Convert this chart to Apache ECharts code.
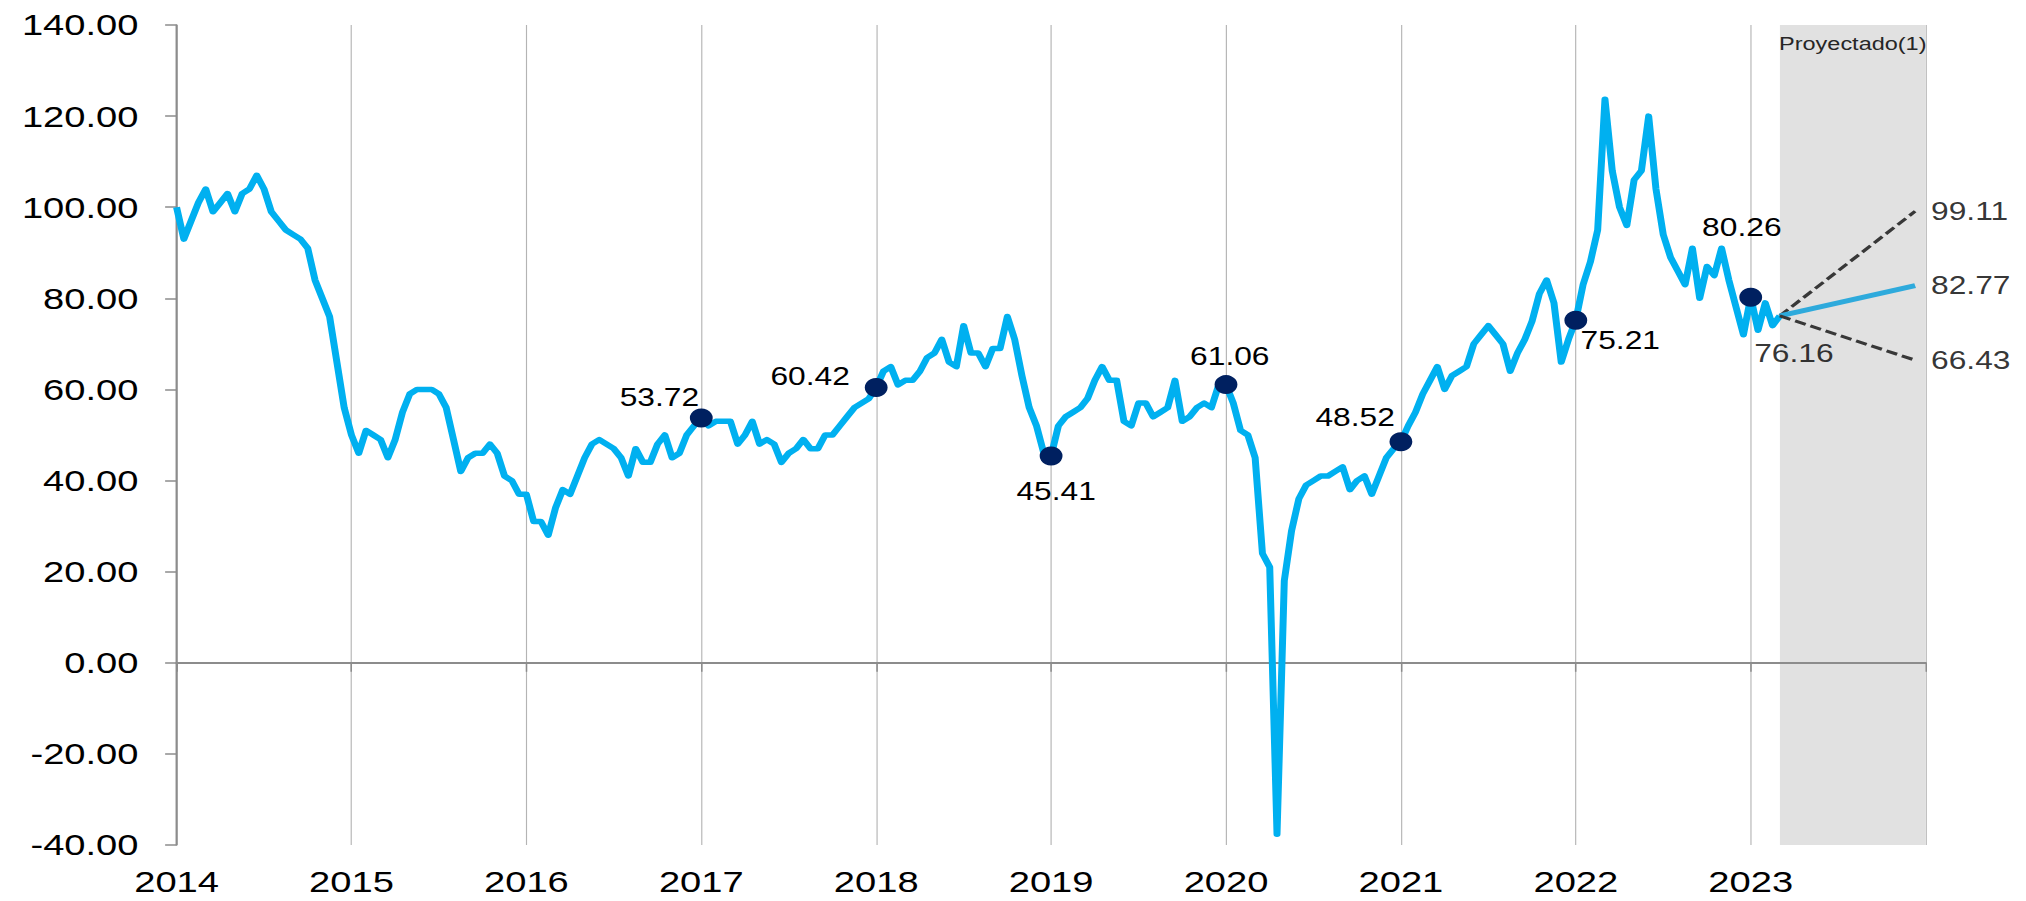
<!DOCTYPE html>
<html>
<head>
<meta charset="utf-8">
<title>WTI</title>
<script src="https://cdn.jsdelivr.net/npm/echarts@6/dist/echarts.min.js"></script>
<style>
    html, body { margin: 0; padding: 0; background: #fff; overflow: hidden; }
    /* the source picture is stretched sideways, so draw narrower and widen it */
    #chart { width: 1595px; height: 901px; transform: scaleX(1.2702); transform-origin: 0 0; }
</style>
</head>
<body>
<div id="chart"></div>
<script>
// WTI, two readings per month (1st and 15th)
const wti2014 = [100, 93, 97, 101, 104, 99, 101, 103, 99, 103, 104, 107, 104, 99, 97, 95, 94, 93, 91, 84, 80, 76, 66, 56];
const wti2015 = [50, 46, 51, 50, 49, 45, 49, 55, 59, 60, 60, 60, 59, 56, 49, 42, 45, 46, 46, 48, 46, 41, 40, 37];
const wti2016 = [37, 31, 31, 28, 34, 38, 37, 41, 45, 48, 49, 48, 47, 45, 41, 47, 44, 44, 48, 50, 45, 46, 50, 52];
const wti2017 = [53.72, 52, 53, 53, 53, 48, 50, 53, 48, 49, 48, 44, 46, 47, 49, 47, 47, 50, 50, 52, 54, 56, 57, 58];
const wti2018 = [60.42, 64, 65, 61, 62, 62, 64, 67, 68, 71, 66, 65, 74, 68, 68, 65, 69, 69, 76, 71, 63, 56, 52, 46];
const wti2019 = [45.41, 52, 54, 55, 56, 58, 62, 65, 62, 62, 53, 52, 57, 57, 54, 55, 56, 62, 53, 54, 56, 57, 56, 61];
const wti2020 = [61.06, 57, 51, 50, 45, 24, 21, -37.63, 18, 29, 36, 39, 40, 41, 41, 42, 43, 38, 40, 41, 37, 41, 45, 47];
const wti2021 = [48.52, 52, 55, 59, 62, 65, 60, 63, 64, 65, 70, 72, 74, 72, 70, 64, 68, 71, 75, 81, 84, 79, 66, 71];
const wti2022 = [75.21, 83, 88, 95, 123.7, 108, 100, 96, 106, 108, 120, 104, 94, 89, 86, 83, 91, 80, 87, 85, 91, 84, 78, 72];
const wti2023 = [80.26, 73, 79, 74, 76.16];
const firstYear = 2014;
const wtiByYear = [wti2014, wti2015, wti2016, wti2017, wti2018, wti2019, wti2020, wti2021, wti2022, wti2023];

// highlighted year-start values
const markerYears = [2017, 2018, 2019, 2020, 2021, 2022, 2023];
const markerValues = [53.72, 60.42, 45.41, 61.06, 48.52, 75.21, 80.26];

// projection to end of 2023
const projectedFrom = 2023.167;
const projectedTo = 2024;
const projectionDate = 2023.94;
const projectionNames = ['Alto', 'Base', 'Bajo'];
const projectionValues = [99.11, 82.77, 66.43];

const yTicks = [-40, 140, 20];   // min, max, step
const xYears = [2014, 2024];

// label placement around each marker (style only)
const markerLabelOffset = {
    2017: [-33, -21], 2018: [-52, -11], 2019: [4, 35], 2020: [3, -28],
    2021: [-36, -24], 2022: [35, 20], 2023: [-7, -70]
};

const FONT = "'Liberation Sans', Arial, sans-serif";

const history = [];
wtiByYear.forEach((vals, k) => {
    vals.forEach((v, i) => history.push([firstYear + k + i / 24, v]));
});
const lastPoint = history[history.length - 1];

const markerData = markerYears.map((y, i) => ({
    value: [y, markerValues[i]],
    label: { offset: markerLabelOffset[y] }
}));

const projectionSeries = projectionNames.map((name, i) => {
    const isBase = name === 'Base';
    return {
        name: name,
        type: 'line',
        data: [[lastPoint[0], lastPoint[1]], [projectionDate, projectionValues[i]]],
        symbol: 'none',
        z: 3,
        lineStyle: isBase
            ? { color: '#2eaadc', width: 5 }
            : { color: '#383838', width: 3, type: [9, 4] }
    };
});

const chart = echarts.init(document.getElementById('chart'), null, { renderer: 'svg' });

chart.setOption({
    animation: false,
    backgroundColor: '#fff',
    textStyle: { fontFamily: FONT },
    grid: { left: 139, right: 79, top: 25, bottom: 56 },
    xAxis: [
        {
            type: 'value',
            min: xYears[0],
            max: xYears[1],
            interval: 1,
            axisLine: { show: false, onZero: false },
            axisTick: { show: false },
            axisLabel: {
                fontSize: 30,
                color: '#000',
                margin: 21,
                fontFamily: FONT,
                formatter: v => (v === xYears[1] ? '' : String(v))
            },
            splitLine: { show: true, lineStyle: { color: '#b4b4b4', width: 0.9 } }
        },
        {
            // axis line drawn at zero
            type: 'value',
            min: xYears[0],
            max: xYears[1],
            interval: 1,
            position: 'bottom',
            z: 1.5,
            axisLine: { show: true, onZero: true, lineStyle: { color: '#8c8c8c', width: 2 } },
            axisTick: { show: true, length: 9, lineStyle: { color: '#8c8c8c', width: 1.2 } },
            axisLabel: { show: false },
            splitLine: { show: false }
        }
    ],
    yAxis: {
        type: 'value',
        min: yTicks[0],
        max: yTicks[1],
        interval: yTicks[2],
        axisLine: { show: true, onZero: false, lineStyle: { color: '#8c8c8c', width: 1.6 } },
        axisTick: { show: true, length: 9, lineStyle: { color: '#8c8c8c', width: 1.5 } },
        axisLabel: {
            fontSize: 30,
            color: '#000',
            margin: 30,
            fontFamily: FONT,
            formatter: v => v.toFixed(2)
        },
        splitLine: { show: false }
    },
    series: [
        {
            // shaded projection window
            name: 'Proyectado',
            type: 'line',
            data: [],
            z: 1,
            markArea: {
                silent: true,
                itemStyle: { color: '#e1e1e1' },
                label: {
                    show: true,
                    position: 'insideTop',
                    distance: 9,
                    fontSize: 18.5,
                    color: '#262626',
                    fontFamily: FONT,
                    formatter: 'Proyectado(1)'
                },
                data: [[{ xAxis: projectedFrom, yAxis: 142.5 }, { xAxis: projectedTo, yAxis: yTicks[0] }]]
            }
        },
        {
            name: 'WTI',
            type: 'line',
            data: history,
            symbol: 'none',
            z: 2,
            lineStyle: { color: '#00b0f0', width: 5.5, join: 'round' }
        },
        ...projectionSeries,
        {
            name: 'Hitos',
            type: 'scatter',
            data: markerData,
            symbol: 'circle',
            symbolSize: [18, 19],
            z: 4,
            itemStyle: { color: '#002060', opacity: 1 },
            label: {
                show: true,
                position: 'inside',
                fontSize: 25,
                color: '#000',
                fontFamily: FONT,
                formatter: p => p.value[1].toFixed(2)
            }
        },
        {
            name: 'Ultimo',
            type: 'scatter',
            data: [{ value: lastPoint, label: { offset: [11, 37] } }],
            symbolSize: 1,
            z: 4,
            itemStyle: { color: 'rgba(0,0,0,0)' },
            label: {
                show: true,
                position: 'inside',
                fontSize: 25,
                color: '#000',
                fontFamily: FONT,
                formatter: p => p.value[1].toFixed(2)
            }
        },
        {
            name: 'Escenarios',
            type: 'scatter',
            data: projectionValues.map(v => [projectionDate, v]),
            symbolSize: 1,
            z: 4,
            itemStyle: { color: 'rgba(0,0,0,0)' },
            label: {
                show: true,
                position: 'right',
                distance: 12,
                fontSize: 25,
                color: '#000',
                fontFamily: FONT,
                formatter: p => p.value[1].toFixed(2)
            }
        }
    ]
});
</script>
</body>
</html>
